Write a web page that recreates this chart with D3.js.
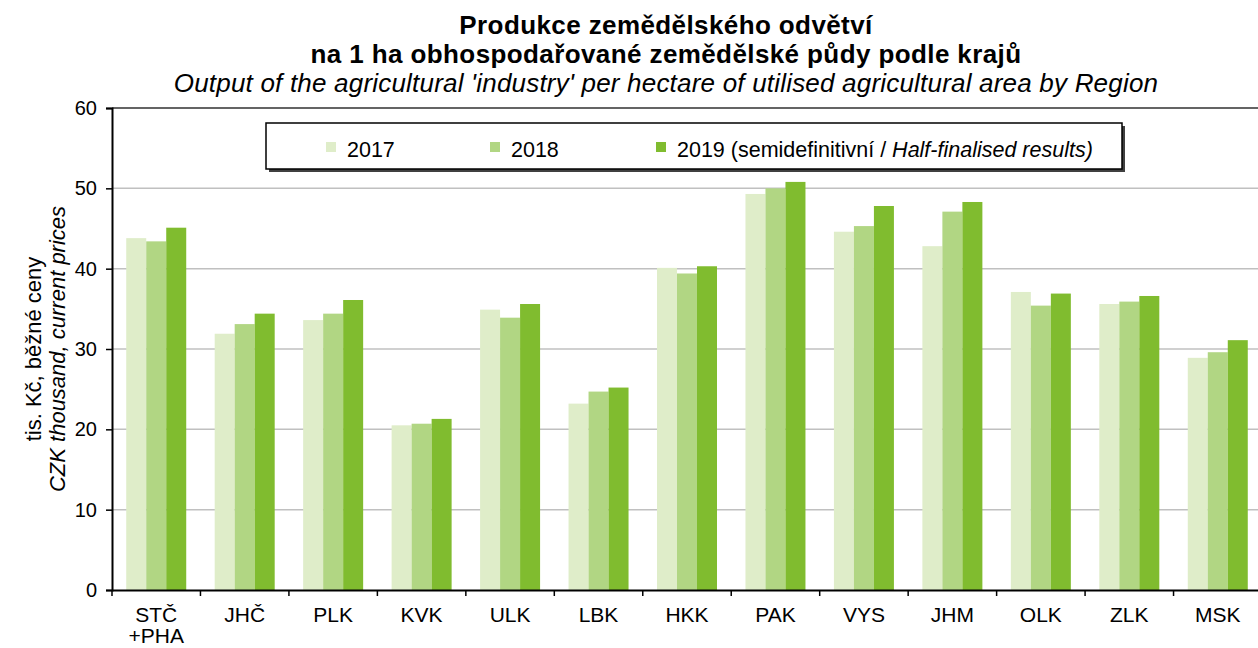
<!DOCTYPE html>
<html lang="cs">
<head>
    <meta charset="UTF-8">
    <title>Produkce zemědělského odvětví</title>
    <script src="https://d3js.org/d3.v7.min.js"></script>
    <style>
        body { margin: 0; background: #fff; }
        text { font-family: "Liberation Sans", Arial, sans-serif; fill: #000; }
    </style>
</head>
<body>
    <div class="chart"></div>
    <script>
        const regions = ['STČ\n+PHA', 'JHČ', 'PLK', 'KVK', 'ULK', 'LBK', 'HKK', 'PAK', 'VYS', 'JHM', 'OLK', 'ZLK', 'MSK'];
        const v2017 = [43.8, 31.9, 33.6, 20.5, 34.9, 23.2, 40.1, 49.3, 44.6, 42.8, 37.1, 35.6, 28.9];
        const v2018 = [43.4, 33.1, 34.4, 20.7, 33.9, 24.7, 39.4, 50.0, 45.3, 47.1, 35.4, 35.9, 29.6];
        const v2019 = [45.1, 34.4, 36.1, 21.3, 35.6, 25.2, 40.3, 50.8, 47.8, 48.3, 36.9, 36.6, 31.1];
        const seriesNames = ['2017', '2018', '2019'];
        const yTicks = [0, 10, 20, 30, 40, 50, 60];

        const colors = { '2017': '#dfedc9', '2018': '#b1d683', '2019': '#80bc2f' };

        const width = 1258;
        const height = 648;
        const margin = { top: 108, right: -4, bottom: 58, left: 112 };

        const svg = d3.select('.chart')
            .append('svg')
            .attr('width', width)
            .attr('height', height);

        const x = d3.scaleBand()
            .domain(regions)
            .range([margin.left, width - margin.right]);

        const xInner = d3.scaleBand()
            .domain(seriesNames)
            .range([0, 60])
            .padding(0);

        const y = d3.scaleLinear()
            .domain([0, 60])
            .range([height - margin.bottom, margin.top]);

        // gridlines
        svg.append('g')
            .selectAll('line')
            .data(yTicks.filter(d => d > 0 && d < 60))
            .enter()
            .append('line')
            .attr('x1', margin.left)
            .attr('x2', width)
            .attr('y1', d => y(d))
            .attr('y2', d => y(d))
            .attr('stroke', '#c0c0c0')
            .attr('stroke-width', 1.5);

        // top border of plot
        svg.append('line')
            .attr('x1', margin.left)
            .attr('x2', width)
            .attr('y1', y(60))
            .attr('y2', y(60))
            .attr('stroke', '#303030')
            .attr('stroke-width', 1.5);

        // bars
        const rows = regions.map((r, i) => ({ region: r, vals: [v2017[i], v2018[i], v2019[i]] }));
        const group = svg.append('g')
            .selectAll('g')
            .data(rows)
            .enter()
            .append('g')
            .attr('transform', d => `translate(${x(d.region) + (x.bandwidth() - 60) / 2},0)`);

        group.selectAll('rect')
            .data(d => d.vals.map((v, k) => ({ key: seriesNames[k], value: v })))
            .enter()
            .append('rect')
            .attr('x', d => xInner(d.key))
            .attr('width', xInner.bandwidth())
            .attr('y', d => y(d.value))
            .attr('height', d => y(0) - y(d.value))
            .attr('fill', d => colors[d.key]);

        // y axis
        const yAxis = svg.append('g')
            .attr('transform', `translate(${margin.left},0)`)
            .call(d3.axisLeft(y).tickValues(yTicks).tickSize(6).tickPadding(9));
        yAxis.select('.domain').attr('stroke', '#000').attr('stroke-width', 2);
        yAxis.selectAll('.tick line').attr('stroke', '#000').attr('stroke-width', 1.5);
        yAxis.selectAll('.tick text').style('font-size', '20px').attr('fill', '#000');

        // x axis
        const xAxis = svg.append('g')
            .attr('transform', `translate(0,${y(0)})`)
            .call(d3.axisBottom(x).tickSize(0).tickFormat(''));
        xAxis.select('.domain').attr('stroke', '#000').attr('stroke-width', 2);

        svg.append('g')
            .selectAll('line')
            .data(regions)
            .enter()
            .append('line')
            .attr('x1', d => x(d))
            .attr('x2', d => x(d))
            .attr('y1', y(0))
            .attr('y2', y(0) + 6)
            .attr('stroke', '#000')
            .attr('stroke-width', 1.5);

        const xLabels = svg.append('g')
            .selectAll('text')
            .data(regions)
            .enter()
            .append('text')
            .attr('x', d => x(d) + x.bandwidth() / 2)
            .attr('y', y(0) + 32)
            .attr('text-anchor', 'middle')
            .style('font-size', '21px');
        xLabels.each(function(d) {
            const parts = d.split('\n');
            d3.select(this).selectAll('tspan')
                .data(parts)
                .enter()
                .append('tspan')
                .attr('x', x(d) + x.bandwidth() / 2)
                .attr('dy', (p, i) => i === 0 ? 0 : 21)
                .text(p => p);
        });

        // y axis title
        const yTitle = svg.append('text')
            .attr('transform', `translate(41,${(y(0) + y(60)) / 2}) rotate(-90)`)
            .attr('text-anchor', 'middle')
            .style('font-size', '22px');
        yTitle.append('tspan').attr('x', 0).attr('dy', 0).text('tis. Kč, běžné ceny');
        yTitle.append('tspan').attr('x', 0).attr('dy', 24).style('font-style', 'italic').text('CZK thousand, current prices');

        // titles
        const titleX = 666;
        svg.append('text')
            .attr('x', titleX).attr('y', 34)
            .attr('text-anchor', 'middle')
            .style('font-size', '26px').style('font-weight', 'bold')
            .style('letter-spacing', '0.4px')
            .text('Produkce zemědělského odvětví');
        svg.append('text')
            .attr('x', titleX).attr('y', 63)
            .attr('text-anchor', 'middle')
            .style('font-size', '26px').style('font-weight', 'bold')
            .style('letter-spacing', '0.4px')
            .text('na 1 ha obhospodařované zemědělské půdy podle krajů');
        svg.append('text')
            .attr('x', titleX).attr('y', 92)
            .attr('text-anchor', 'middle')
            .style('font-size', '26px').style('font-style', 'italic')
            .style('letter-spacing', '0.2px')
            .text("Output of the agricultural 'industry' per hectare of utilised agricultural area by Region");

        // legend
        const legend = svg.append('g');
        legend.append('rect')
            .attr('x', 269).attr('y', 126)
            .attr('width', 856).attr('height', 46)
            .attr('fill', '#404040');
        legend.append('rect')
            .attr('x', 266).attr('y', 123)
            .attr('width', 856).attr('height', 46)
            .attr('fill', '#fff')
            .attr('stroke', '#000')
            .attr('stroke-width', 1.5);

        const legendX = [326, 490, 656];
        const legendItems = legend.selectAll('g.item')
            .data(seriesNames)
            .enter()
            .append('g')
            .attr('class', 'item')
            .attr('transform', (d, i) => `translate(${legendX[i]},142)`);
        legendItems.append('rect')
            .attr('width', 10).attr('height', 10)
            .attr('fill', d => colors[d]);
        const legendText = legendItems.append('text')
            .attr('x', 21).attr('y', 15)
            .style('font-size', '21.5px');
        legendText.append('tspan').text(d => d === '2019' ? '2019 (semidefinitivní / ' : d);
        legendText.filter(d => d === '2019').append('tspan').style('font-style', 'italic').text('Half-finalised results)');
    </script>
</body>
</html>
